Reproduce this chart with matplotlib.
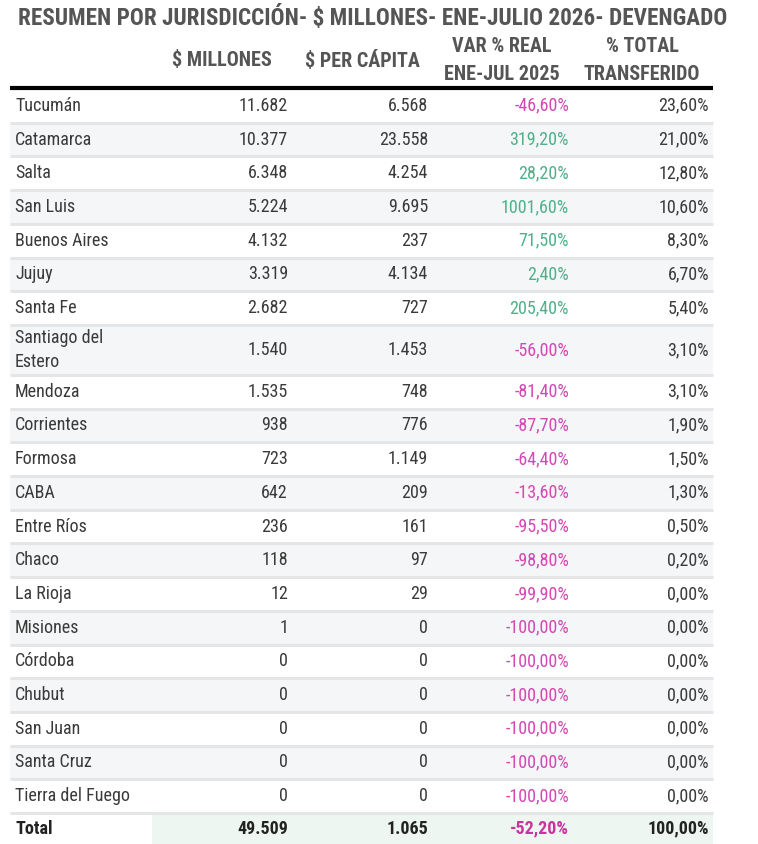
import matplotlib.pyplot as plt
from matplotlib import font_manager
from matplotlib.patches import Rectangle

# datos de la tabla
provincias = ['Tucumán', 'Catamarca', 'Salta', 'San Luis', 'Buenos Aires', 'Jujuy',
              'Santa Fe', 'Santiago del\nEstero', 'Mendoza', 'Corrientes', 'Formosa',
              'CABA', 'Entre Ríos', 'Chaco', 'La Rioja', 'Misiones', 'Córdoba',
              'Chubut', 'San Juan', 'Santa Cruz', 'Tierra del Fuego']
millones = [11682, 10377, 6348, 5224, 4132, 3319, 2682, 1540, 1535, 938, 723,
            642, 236, 118, 12, 1, 0, 0, 0, 0, 0]
per_capita = [6568, 23558, 4254, 9695, 237, 4134, 727, 1453, 748, 776, 1149,
              209, 161, 97, 29, 0, 0, 0, 0, 0, 0]
var_real = [-46.6, 319.2, 28.2, 1001.6, 71.5, 2.4, 205.4, -56.0, -81.4, -87.7, -64.4,
            -13.6, -95.5, -98.8, -99.9, -100.0, -100.0, -100.0, -100.0, -100.0, -100.0]
pct_total = [23.6, 21.0, 12.8, 10.6, 8.3, 6.7, 5.4, 3.1, 3.1, 1.9, 1.5,
             1.3, 0.5, 0.2, 0.0, 0.0, 0.0, 0.0, 0.0, 0.0, 0.0]
total = ['Total', 49509, 1065, -52.2, 100.0]

titulo = 'RESUMEN POR JURISDICCIÓN- $ MILLONES- ENE-JULIO 2026- DEVENGADO'
encabezados = ['$ MILLONES', '$ PER CÁPITA', 'VAR % REAL\nENE-JUL 2025', '% TOTAL\nTRANSFERIDO']


def miles(v):
    return f'{v:,}'.replace(',', '.')


def pct(v):
    return f'{v:.2f}%'.replace('.', ',')


# fuente angosta si existe, si no Roboto un poco más chica
disponibles = {f.name for f in font_manager.fontManager.ttflist}
FONT = ['Roboto', 'DejaVu Sans']
ESC = 0.85
for cand in ['Roboto Condensed', 'Archivo Narrow', 'Liberation Sans Narrow', 'Open Sans Condensed']:
    if cand in disponibles:
        FONT = [cand, 'DejaVu Sans']
        ESC = 1.0
        break

FS = 13 * ESC
FS_HDR = 14.5 * ESC
FS_TIT = 16.7 * ESC
GRIS_TXT = '#3a3a3a'
GRIS_HDR = '#555555'
ROSA = '#d447b4'
VERDE = '#4fb08a'

fig = plt.figure(figsize=(7.58, 8.44), dpi=100)
ax = fig.add_axes([0, 0, 1, 1])
ax.set_xlim(0, 758)
ax.set_ylim(844, 0)
ax.axis('off')

x0, x1 = 10, 713
cols_x = [288, 428, 569, 709]

ax.text(18, 18, titulo, fontsize=FS_TIT, fontweight='bold', color=GRIS_HDR,
        family=FONT, va='center', ha='left')
hdr_cx = [222, 362, 502, 642]
for cx, h in zip(hdr_cx, encabezados):
    lineas = h.split('\n')
    ys = [61] if len(lineas) == 1 else [47, 75]
    for yy, ln in zip(ys, lineas):
        ax.text(cx, yy, ln, fontsize=FS_HDR, fontweight='bold', color=GRIS_HDR,
                family=FONT, ha='center', va='center')

# filas
y = 89
alto = 33.7
for i, nombre in enumerate(provincias):
    h = 50 if '\n' in nombre else alto
    if i % 2 == 1:
        ax.add_patch(Rectangle((x0, y), x1 - x0, h, color='#f5f6f7', lw=0, zorder=0))
    cy = y + h / 2
    if '\n' in nombre:
        a, b = nombre.split('\n')
        ax.text(15, cy - 12, a, fontsize=FS, color=GRIS_TXT, family=FONT, va='center')
        ax.text(15, cy + 12, b, fontsize=FS, color=GRIS_TXT, family=FONT, va='center')
    else:
        ax.text(15, cy, nombre, fontsize=FS, color=GRIS_TXT, family=FONT, va='center')
    ax.text(cols_x[0], cy, miles(millones[i]), fontsize=FS, color=GRIS_TXT,
            family=FONT, ha='right', va='center')
    ax.text(cols_x[1], cy, miles(per_capita[i]), fontsize=FS, color=GRIS_TXT,
            family=FONT, ha='right', va='center')
    ax.text(cols_x[2], cy, pct(var_real[i]), fontsize=FS,
            color=ROSA if var_real[i] < 0 else VERDE, family=FONT, ha='right', va='center')
    ax.text(cols_x[3], cy, pct(pct_total[i]), fontsize=FS, color=GRIS_TXT,
            family=FONT, ha='right', va='center')
    y += h
    ax.plot([x0, x1], [y, y], color='#e3e5e7', lw=2.2, solid_capstyle='butt', zorder=1)

# fila total
h = 844 - y
ax.add_patch(Rectangle((152, y + 1), x1 - 152, h, color='#edf6f0', lw=0, zorder=0))
cy = y + h / 2
colores_total = ['#222222', '#222222', '#222222', '#c8359f', '#222222']
textos_total = [total[0], miles(total[1]), miles(total[2]), pct(total[3]), pct(total[4])]
xs_total = [15] + cols_x
for xx, t, c in zip(xs_total, textos_total, colores_total):
    ax.text(xx, cy, t, fontsize=FS, fontweight='bold', color=c, family=FONT,
            ha='left' if xx == 15 else 'right', va='center')

ax.plot([x0, x1], [88, 88], color='black', lw=3, solid_capstyle='butt', zorder=2)

fig.savefig('out.png', dpi=100)
